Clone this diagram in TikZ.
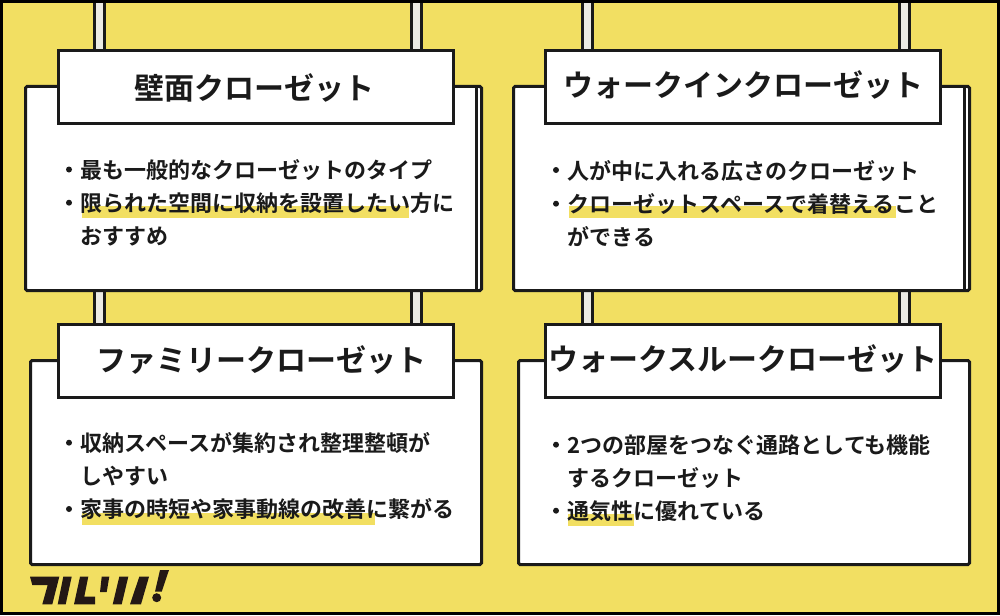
\documentclass[tikz,border=0pt]{standalone}
\usepackage{fontspec}
\setmainfont{Noto Sans CJK JP}[BoldFont={Noto Sans CJK JP Bold}]
\definecolor{bgyellow}{HTML}{F2DF62}
\definecolor{poleg}{HTML}{ECEBE4}
\definecolor{ink}{HTML}{1A1A1A}
\definecolor{logoink}{HTML}{231815}
\newcommand{\hl}[4]{\fill[bgyellow] (#1,#3) rectangle (#2,#4);}
\newcommand{\pole}[3]{\draw[ink,line width=3pt,fill=poleg] (#1-5,#2-5) rectangle (#1+5,#3);}
\tikzset{
  x=1pt,y=-1pt,
  card/.style={draw=ink,line width=3pt,fill=white,rounded corners=1.5pt},
  titlebox/.style={draw=ink,line width=3pt,fill=white,anchor=north west,inner sep=0pt,outer sep=0pt,minimum width=395pt,minimum height=73pt},
  ttl/.style={anchor=center,inner sep=0pt,font=\fontsize{30}{30}\selectfont\bfseries,text=ink},
  body/.style={anchor=base west,inner sep=0pt,font=\fontsize{22}{22}\selectfont\bfseries,text=ink},
  dot/.style={circle,fill=ink,inner sep=0pt,outer sep=0pt,minimum size=6pt},
  logo/.style={fill=logoink,draw=none}
}
\begin{document}
\begin{tikzpicture}
\useasboundingbox (0,0) rectangle (1000,615);
\fill[bgyellow] (0,0) rectangle (1000,615);
% poles
\pole{99.5}{0}{330}\pole{416.5}{0}{330}\pole{587}{0}{330}\pole{904}{0}{330}
% cards
\draw[card] (25.5,86.5) rectangle (481.5,290.5);
\draw[ink,line width=3pt] (476.5,86.5) -- (476.5,290.5);
\draw[card] (513.5,86.5) rectangle (969.5,290.5);
\draw[ink,line width=3pt] (964.5,86.5) -- (964.5,290.5);
\draw[card] (30.5,360.5) rectangle (481.5,564.5);
\draw[card] (518.5,360.5) rectangle (969.5,564.5);
% titles
\node[titlebox] (t1) at (58.5,50.5) {};
\node[titlebox] (t2) at (545,50.5) {};
\node[titlebox] (t3) at (58.5,324.5) {};
\node[titlebox] (t4) at (545,324.5) {};
\node[ttl] (n1) at (254.5,87.5) {壁面クローゼット};
\node[ttl] (n2) at (743.5,85) {ウォークインクローゼット};
\node[ttl] (n3) at (261.5,360.5) {ファミリークローゼット};
\node[ttl] (n4) at (743,358.5) {ウォークスルークローゼット};
% highlights
\hl{82}{409}{206}{218}
\hl{569}{896}{206}{218}
\hl{82}{375}{513}{525}
\hl{568}{634}{514}{526}
% body 1
\node[dot] (b11) at (69,169.5) {};
\node[dot] (b12) at (69,202.7) {};
\node[body] (l11) at (80.5,178) {最も一般的なクローゼットのタイプ};
\node[body] (l12) at (80.5,211) {限られた空間に収納を設置したい方に};
\node[body] (l13) at (80.5,244) {おすすめ};
% body 2
\node[dot] (b21) at (556,170) {};
\node[dot] (b22) at (556,203.7) {};
\node[body] (l21) at (567.5,179) {人が中に入れる広さのクローゼット};
\node[body] (l22) at (567.5,212) {クローゼットスペースで着替えること};
\node[body] (l23) at (567.5,245) {ができる};
% body 3
\node[dot] (b31) at (69,442.7) {};
\node[dot] (b32) at (69,509) {};
\node[body] (l31) at (80.5,451.5) {収納スペースが集約され整理整頓が};
\node[body] (l32) at (80.5,484.5) {しやすい};
\node[body] (l33) at (80.5,517.5) {家事の時短や家事動線の改善に繋がる};
% body 4
\node[dot] (b41) at (556,444.7) {};
\node[dot] (b42) at (556,510.7) {};
\node[body] (l41) at (567.5,453) {2つの部屋をつなぐ通路としても機能};
\node[body] (l42) at (567.5,486) {するクローゼット};
\node[body] (l43) at (567.5,519) {通気性に優れている};
% logo
\fill[logo] (30,576.7) -- (59.3,576.7) -- (52.3,604.3) -- (42.3,604.3) -- (47.7,585) -- (32.3,585) -- cycle;
\fill[logo] (63.3,576.7) -- (71.7,576.7) -- (65.7,604.3) -- (57.7,604.3) -- cycle;
\fill[logo] (80,576.7) -- (88.3,576.7) -- (84.3,596.7) -- (95,596.7) -- (95,604.3) -- (74,604.3) -- cycle;
\fill[logo] (101.7,576.7) -- (109.3,576.7) -- (106.7,592) -- (100,592) -- cycle;
\fill[logo] (119.3,576.7) -- (128.3,576.7) -- (121.7,604.3) -- (112.7,604.3) -- cycle;
\fill[logo] (139.3,576.7) -- (149,576.7) -- (141,604.3) -- (130,604.3) -- cycle;
\fill[logo] (160,570) -- (169,570) -- (161.7,591.7) -- (155,591.7) -- cycle;
\fill[logo] (156.7,597.7) circle[radius=4.5];
% frame
\draw[black,line width=3pt] (1.5,1.5) rectangle (998.5,613.5);
\end{tikzpicture}
\end{document}
